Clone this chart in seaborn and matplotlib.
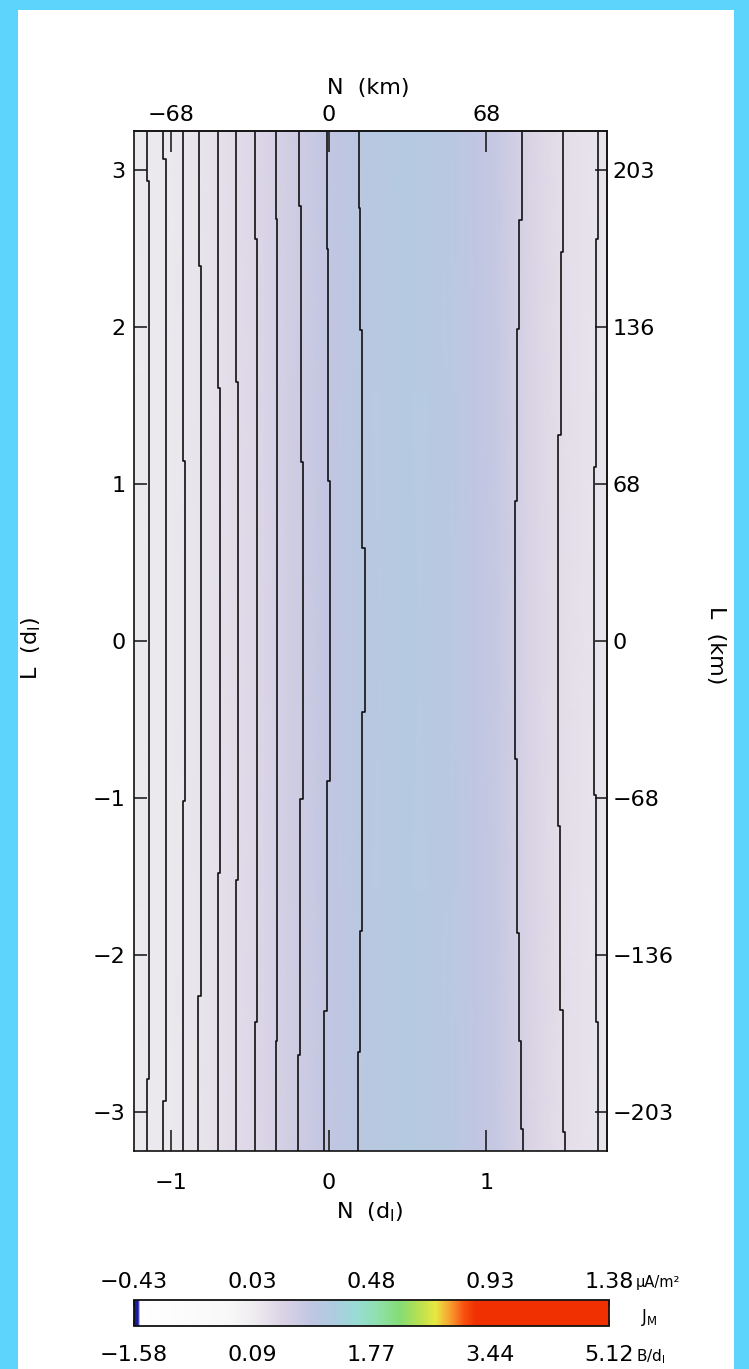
import numpy as np
import pandas as pd
import matplotlib
matplotlib.use("Agg")
import matplotlib.pyplot as plt
from matplotlib.colors import LinearSegmentedColormap, Normalize
from matplotlib.cm import ScalarMappable
from matplotlib.patches import Rectangle
from matplotlib.ticker import FixedLocator
import seaborn as sns

# ---------------- data ----------------
# J_M profile across N (d_I), in B/d_I units (field is ~uniform along L)
N_profile = [-1.235, -1.0, -0.8, -0.5, -0.25, 0.0, 0.2, 0.45, 0.7, 0.95, 1.1, 1.25, 1.45, 1.765]
J_profile = [0.15, 0.18, 0.24, 0.43, 0.66, 0.90, 1.03, 1.11, 1.08, 0.92, 0.80, 0.56, 0.36, 0.22]
L_extent = [-3.25, 3.25]

# contour lines: L break points (top -> bottom) and N position of each segment
contour_L = [
    [3.25, 2.93, -2.79, -3.25],
    [3.25, 3.07, -2.93, -3.25],
    [3.25, 1.15, -1.02, -3.25],
    [3.25, 2.39, -2.26, -3.25],
    [3.25, 1.61, -1.48, -3.25],
    [3.25, 1.65, -1.52, -3.25],
    [3.25, 2.56, -2.43, -3.25],
    [3.25, 2.69, -2.55, -3.25],
    [3.25, 2.77, 1.14, -1.01, -2.64, -3.25],
    [3.25, 2.50, 1.02, -0.89, -2.36, -3.25],
    [3.25, 2.76, 1.98, 0.59, -0.45, -1.85, -2.62, -3.25],
    [3.25, 2.68, 1.99, 0.89, -0.75, -1.86, -2.55, -3.11, -3.25],
    [3.25, 2.48, 1.31, -1.18, -2.35, -3.13, -3.25],
    [3.25, 2.56, 1.11, -0.98, -2.43, -3.25],
]
contour_N = [
    [-1.153, -1.138, -1.153],
    [-1.048, -1.032, -1.048],
    [-0.927, -0.914, -0.927],
    [-0.821, -0.810, -0.826],
    [-0.703, -0.692, -0.705],
    [-0.587, -0.576, -0.587],
    [-0.466, -0.455, -0.470],
    [-0.335, -0.325, -0.337],
    [-0.191, -0.176, -0.166, -0.179, -0.195],
    [-0.011, -0.005, 0.005, -0.011, -0.027],
    [0.189, 0.200, 0.214, 0.227, 0.214, 0.200, 0.187],
    [1.225, 1.210, 1.195, 1.183, 1.193, 1.206, 1.219, 1.235],
    [1.485, 1.472, 1.457, 1.470, 1.485, 1.500],
    [1.711, 1.696, 1.682, 1.696, 1.711],
]

# axis ticks / labels
N_ticks = [-1, 0, 1]
N_tick_labels = ["\u22121", "0", "1"]
N_km_labels = ["\u221268", "0", "68"]
L_ticks = [-3, -2, -1, 0, 1, 2, 3]
L_tick_labels = ["\u22123", "\u22122", "\u22121", "0", "1", "2", "3"]
L_km_labels = ["\u2212203", "\u2212136", "\u221268", "0", "68", "136", "203"]

# colour bar
cb_min, cb_max = -1.58, 5.12
cb_ticks = [-1.58, 0.095, 1.77, 3.445, 5.12]
cb_bottom_labels = ["\u22121.58", "0.09", "1.77", "3.44", "5.12"]
cb_top_labels = ["\u22120.43", "0.03", "0.48", "0.93", "1.38"]

# colour map nodes
cmap_pos = [0.0, 0.008, 0.012, 0.20, 0.25, 0.31, 0.37, 0.42, 0.47, 0.51,
            0.56, 0.60, 0.635, 0.665, 0.695, 0.72, 1.0]
cmap_col = ['#1a1aa0', '#1a1aa0', '#ffffff', '#f8f8f8', '#efedf0', '#dcd4e6',
            '#c2c6e2', '#aeccE0', '#98dcd4', '#90e0b0', '#84dc74', '#b8e050',
            '#e8e840', '#f8a030', '#f85010', '#f03000', '#f03000']

# ---------------- styling ----------------
sns.set_style("white")
plt.rcParams['font.family'] = ['DejaVu Sans']
plt.rcParams['mathtext.default'] = 'regular'
plt.rcParams['text.color'] = 'black'
plt.rcParams['xtick.color'] = 'black'
plt.rcParams['ytick.color'] = 'black'
plt.rcParams['xtick.labelcolor'] = 'black'
plt.rcParams['ytick.labelcolor'] = 'black'
plt.rcParams['axes.labelcolor'] = 'black'

W, H = 749, 1369
fig = plt.figure(figsize=(W / 100, H / 100), dpi=100, facecolor='#5cd4fc')
fig.add_artist(Rectangle((18 / W, 0), (734 - 18) / W, (H - 10) / H,
                         transform=fig.transFigure, facecolor='white',
                         edgecolor='none', zorder=-10))

cmap = LinearSegmentedColormap.from_list("jm", list(zip(cmap_pos, cmap_col)), N=1024)
norm = Normalize(vmin=cb_min, vmax=cb_max)

# main axes
ax_l, ax_r, ax_t, ax_b = 134, 607, 131, 1151
ax = fig.add_axes([ax_l / W, 1 - ax_b / H, (ax_r - ax_l) / W, (ax_b - ax_t) / H])

Ngrid, Lgrid = np.meshgrid(N_profile, L_extent)
Z = np.tile(J_profile, (len(L_extent), 1))
ax.pcolormesh(Ngrid, Lgrid, Z, cmap=cmap, norm=norm, shading='gouraud', zorder=0)

# contour lines
rows = []
for k, (ls, ns) in enumerate(zip(contour_L, contour_N)):
    order = 0
    for i, n in enumerate(ns):
        rows.append((k, order, n, ls[i])); order += 1
        rows.append((k, order, n, ls[i + 1])); order += 1
df = pd.DataFrame(rows, columns=["line", "order", "N", "L"])
sns.lineplot(data=df, x="N", y="L", units="line", estimator=None, sort=False,
             color='#111111', linewidth=1.2, ax=ax, legend=False, zorder=3)

ax.set_xlim(-1.235, 1.765)
ax.set_ylim(L_extent[0], L_extent[1])
ax.set_xlabel("")
ax.set_ylabel("")
fs = 16
ax.set_xticks(N_ticks, labels=N_tick_labels)
ax.set_yticks(L_ticks, labels=L_tick_labels)
ax.tick_params(axis='x', direction='in', length=15, width=1.1, pad=16,
               labelsize=fs, color='#111111', bottom=True, top=False)
ax.tick_params(axis='y', direction='in', length=9, width=1.1, pad=6,
               labelsize=fs, color='#111111', left=True, right=False)
for sp in ax.spines.values():
    sp.set_linewidth(1.2)
    sp.set_color('#111111')
    sp.set_zorder(5)

ax_top = ax.secondary_xaxis('top')
ax_top.set_xticks(N_ticks, labels=N_km_labels)
ax_top.tick_params(direction='in', length=15, width=1.1, pad=4, labelsize=fs,
                   color='#111111')
ax_top.spines['top'].set_linewidth(1.2)

ax_right = ax.secondary_yaxis('right')
ax_right.set_yticks(L_ticks, labels=L_km_labels)
ax_right.tick_params(direction='in', length=9, width=1.1, pad=4, labelsize=fs,
                     color='#111111')
ax_right.spines['right'].set_linewidth(1.2)

fig.text(368 / W, 1 - 88 / H, "N  (km)", ha='center', va='center', fontsize=fs)
fig.text(370 / W, 1 - 1212 / H, "N  (d$_\\mathrm{I}$)", ha='center', va='center', fontsize=fs)
fig.text(31 / W, 1 - 648 / H, "L  (d$_\\mathrm{I}$)", ha='center', va='center',
         fontsize=fs, rotation=90)
fig.text(716 / W, 1 - 645 / H, "L  (km)", ha='center', va='center',
         fontsize=fs, rotation=-90)

# colour bar
cb_l, cb_r, cb_t, cb_b = 134, 609, 1300, 1326
cax = fig.add_axes([cb_l / W, 1 - cb_b / H, (cb_r - cb_l) / W, (cb_b - cb_t) / H])
sm = ScalarMappable(norm=norm, cmap=cmap)
cbar = fig.colorbar(sm, cax=cax, orientation='horizontal')
cbar.outline.set_linewidth(1.3)
cbar.outline.set_edgecolor('#111111')
cbar.set_ticks(cb_ticks, labels=cb_bottom_labels)
cax.xaxis.set_minor_locator(FixedLocator(list(np.linspace(cb_min, cb_max, 9))))
cax.tick_params(axis='x', which='both', direction='in', length=4, width=1.1,
                top=True, bottom=True, labelsize=16, pad=14, color='#111111')
cb_top = cax.secondary_xaxis('top')
cb_top.set_xticks(cb_ticks, labels=cb_top_labels)
cb_top.tick_params(length=0, pad=6, labelsize=16)
cb_top.spines['top'].set_visible(False)

fig.text(636 / W, 1 - 1282 / H, "\u03bcA/m\u00b2", ha='left', va='center', fontsize=10.5)
fig.text(636 / W, 1 - 1357 / H, "B/d$_\\mathrm{I}$", ha='left', va='center', fontsize=11)
fig.text(641 / W, 1 - 1318 / H, "J$_\\mathrm{M}$", ha='left', va='center', fontsize=12)

fig.savefig("out.png", dpi=100, facecolor=fig.get_facecolor())
